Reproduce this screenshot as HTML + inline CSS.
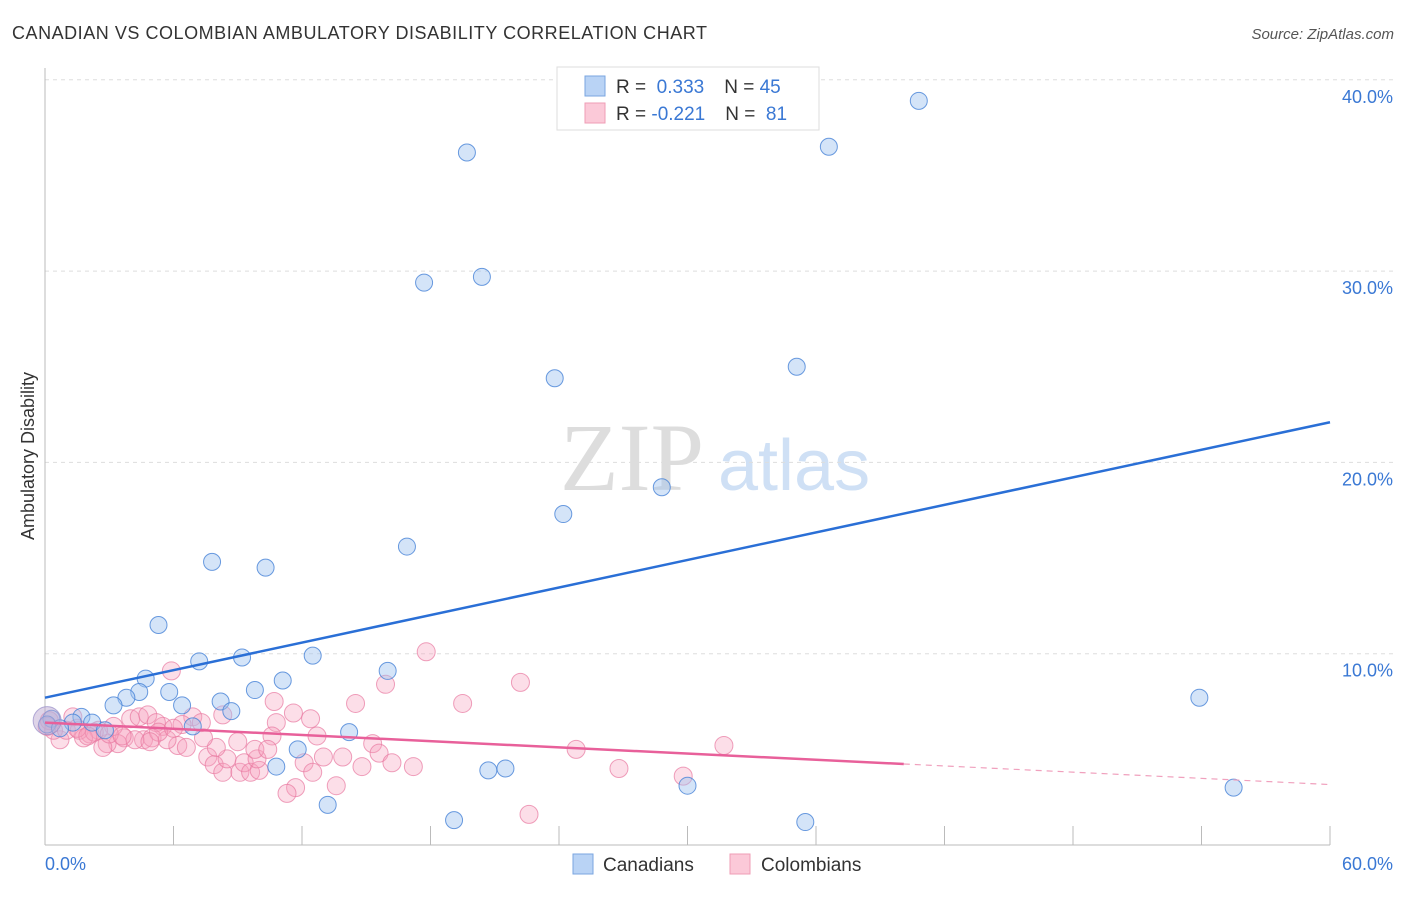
<!DOCTYPE html>
<html><head><meta charset="utf-8"><style>
body{margin:0;background:#fff;font-family:"Liberation Sans",sans-serif}
</style></head><body>
<svg width="1406" height="892" xmlns="http://www.w3.org/2000/svg" font-family="Liberation Sans, sans-serif">
<text x="12" y="39" font-size="18" fill="#333" textLength="695" lengthAdjust="spacing">CANADIAN VS COLOMBIAN AMBULATORY DISABILITY CORRELATION CHART</text>
<text x="1394" y="39" font-size="15" fill="#555" font-style="italic" text-anchor="end">Source: ZipAtlas.com</text>
<text x="560" y="490" font-size="96" fill="#ddd" font-family="Liberation Serif, serif">ZIP</text>
<text x="718" y="490" font-size="72" fill="#cfe0f5">atlas</text>
<g id="grid"></g>
<line x1="45" y1="68" x2="45" y2="845" stroke="#bbb"/>
<line x1="45" y1="845" x2="1330" y2="845" stroke="#bbb"/>
<text x="34" y="456" font-size="18" fill="#333" text-anchor="middle" transform="rotate(-90 34 456)">Ambulatory Disability</text>
<text x="45" y="870" font-size="18" fill="#3a78d4">0.0%</text>
<text x="1393" y="870" font-size="18" fill="#3a78d4" text-anchor="end">60.0%</text>
<g id="pts"></g>
<g id="lines"></g>
<g>
<rect x="557" y="67" width="262" height="63" fill="#fff" stroke="#ddd"/>
<rect x="585" y="76" width="20" height="20" fill="#b9d3f5" stroke="#7aa6e0"/>
<rect x="585" y="103" width="20" height="20" fill="#fbc9d8" stroke="#ef9db6"/>
<text x="616" y="93" font-size="19" fill="#333">R = <tspan fill="#3a78d4">&#160;0.333</tspan><tspan dx="20">N = </tspan><tspan fill="#3a78d4">45</tspan></text>
<text x="616" y="120" font-size="19" fill="#333">R = <tspan fill="#3a78d4">-0.221</tspan><tspan dx="20">N = </tspan><tspan fill="#3a78d4">&#160;81</tspan></text>
</g>
<g>
<rect x="573" y="854" width="20" height="20" fill="#b9d3f5" stroke="#7aa6e0"/>
<text x="603" y="871" font-size="19" fill="#333">Canadians</text>
<rect x="730" y="854" width="20" height="20" fill="#fbc9d8" stroke="#ef9db6"/>
<text x="761" y="871" font-size="19" fill="#333">Colombians</text>
</g>
</svg>
<script>
const yTicks=[10,20,30,40];
const yTickLabels=["10.0%","20.0%","30.0%","40.0%"];
const xTicks=[0,6,12,18,24,30,36,42,48,54,60];
const canX=[19.7,40.8,36.6,17.7,20.4,23.8,35.1,28.8,24.2,16.9,7.8,10.3,5.3,7.2,9.2,12.5,16.0,4.7,11.1,4.4,5.8,9.8,3.8,3.2,6.4,8.2,8.7,53.9,1.7,2.2,1.3,0.3,0.1,0.7,2.8,6.9,14.2,11.8,10.8,20.7,21.5,30.0,55.5,13.2,19.1,35.5];
const canY=[36.2,38.9,36.5,29.4,29.7,24.4,25.0,18.7,17.3,15.6,14.8,14.5,11.5,9.6,9.8,9.9,9.1,8.7,8.6,8.0,8.0,8.1,7.7,7.3,7.3,7.5,7.0,7.7,6.7,6.4,6.4,6.6,6.3,6.1,6.0,6.2,5.9,5.0,4.1,3.9,4.0,3.1,3.0,2.1,1.3,1.2];
const colX=[17.8,5.9,15.9,14.5,10.7,8.3,11.6,12.4,10.8,12.7,10.6,15.3,15.6,16.2,17.2,14.8,13.9,13.0,12.1,12.5,13.6,11.7,11.3,7.6,7.9,8.3,8.5,9.1,9.3,9.6,10.0,9.9,9.8,10.4,8.0,9.0,4.0,4.4,4.8,6.9,7.3,7.4,6.4,6.2,6.6,5.5,5.2,4.6,5.0,5.7,3.7,3.4,2.9,2.7,3.2,2.5,2.1,1.3,0.7,0.4,1.0,1.6,1.8,19.5,22.2,24.8,26.8,29.8,31.7,22.6,2.3,3.0,4.2,5.3,6.0,0.2,1.5,2.0,3.6,4.9,0.1];
const colY=[10.1,9.1,8.4,7.4,7.5,6.8,6.9,6.6,6.4,5.7,5.7,5.3,4.8,4.3,4.1,4.1,4.6,4.6,4.3,3.8,3.1,3.0,2.7,4.6,4.2,3.8,4.5,3.8,4.3,3.8,3.9,4.5,5.0,5.0,5.1,5.4,6.6,6.7,6.8,6.7,6.4,5.6,6.3,5.2,5.1,6.2,6.4,5.5,5.6,5.5,5.6,5.3,5.3,5.1,6.2,6.0,5.8,6.7,5.5,6.0,6.0,6.0,5.6,7.4,8.5,5.0,4.0,3.6,5.2,1.6,5.9,5.8,5.5,5.9,6.1,6.5,6.1,5.7,5.7,5.4,6.2];
const canTrend=[7.7,0.24];
const colTrend=[6.4,-0.054];
const colSolidEnd=40.1;
const X=v=>45+v/60*1285, Y=v=>845-v*19.13;
const NS="http://www.w3.org/2000/svg";
function mk(tag,attrs,parent){const e=document.createElementNS(NS,tag);for(const k in attrs)e.setAttribute(k,attrs[k]);parent.appendChild(e);return e;}
const grid=document.getElementById('grid');
yTicks.forEach((t,i)=>{
 const l=mk('line',{x1:45,x2:1394,y1:Y(t),y2:Y(t),stroke:'#ddd','stroke-dasharray':'4 4'},grid);
 
 
 const tx=mk('text',{x:1393,y:Y(t)+23,'font-size':18,fill:'#3a78d4','text-anchor':'end'},grid);
 tx.textContent=yTickLabels[i];
 
 
});
xTicks.forEach(t=>{
 const l=mk('line',{x1:X(t),x2:X(t),y1:826,y2:845,stroke:'#bbb'},grid);
 
 
});
const pts=document.getElementById('pts');
colX.forEach((x,i)=>{
 const c=mk('circle',{cx:X(x),cy:Y(colY[i]),r:9,fill:'rgba(246,160,190,0.35)',stroke:'rgba(232,120,160,0.7)','stroke-width':1},pts);
 
 
});
canX.forEach((x,i)=>{
 const c=mk('circle',{cx:X(x),cy:Y(canY[i]),r:8.5,fill:'rgba(160,196,240,0.45)',stroke:'rgba(70,130,215,0.8)','stroke-width':1},pts);
 
 
});
const big=mk('circle',{cx:X(0.1),cy:Y(6.5),r:14,fill:'rgba(190,170,210,0.5)',stroke:'rgba(150,140,200,0.7)'},pts);


const lines=document.getElementById('lines');
const bl=mk('line',{x1:X(0),y1:Y(canTrend[0]),x2:X(60),y2:Y(canTrend[0]+canTrend[1]*60),stroke:'#2a6fd6','stroke-width':2.5},lines);


const pl=mk('line',{x1:X(0),y1:Y(colTrend[0]),x2:X(colSolidEnd),y2:Y(colTrend[0]+colTrend[1]*colSolidEnd),stroke:'#e8609a','stroke-width':2.5},lines);


const pd=mk('line',{x1:X(colSolidEnd),y1:Y(colTrend[0]+colTrend[1]*colSolidEnd),x2:X(60),y2:Y(colTrend[0]+colTrend[1]*60),stroke:'#f0a0bd','stroke-width':1.2,'stroke-dasharray':'6 5'},lines);


</script>
</body></html>
